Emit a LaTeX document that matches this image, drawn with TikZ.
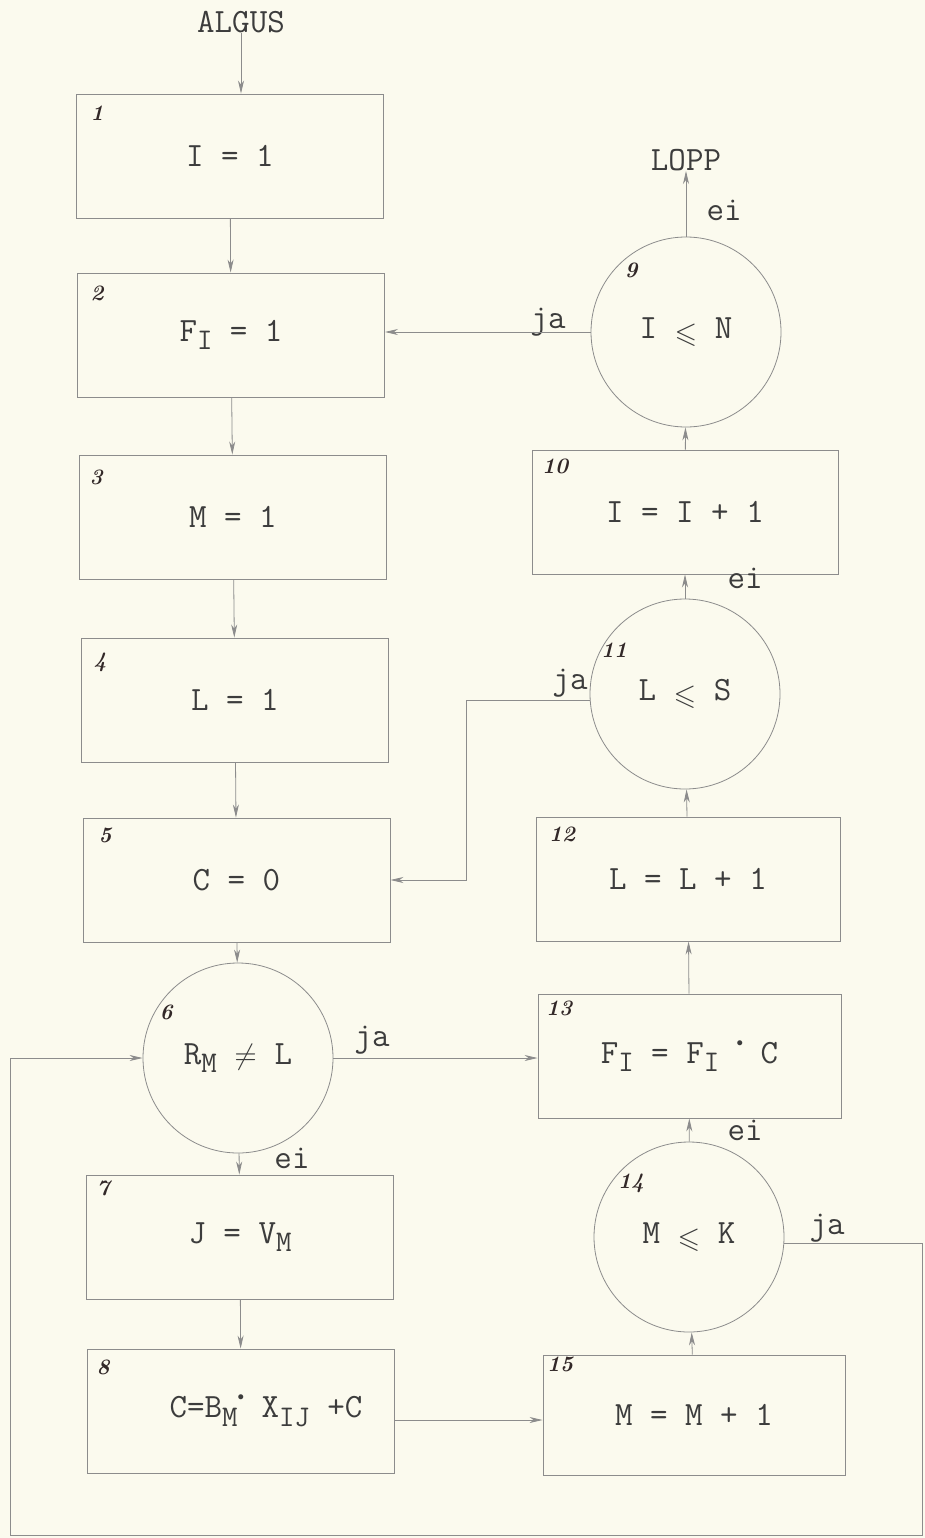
\documentclass[tikz,border=0pt]{standalone}
\usepackage{amssymb}
\usetikzlibrary{arrows.meta}
\definecolor{paper}{RGB}{251,250,238}
\definecolor{ink}{RGB}{60,60,60}
\definecolor{pencil}{RGB}{140,140,140}
\definecolor{numc}{RGB}{50,40,40}
\newcommand\sub[1]{\raisebox{-0.6ex}{\fontsize{30}{30}\selectfont #1}}
\newcommand\tdot{\raisebox{0.5em}{\scalebox{1.3}{\normalsize$\bullet$}}}
\newcommand\leqs{\raisebox{-0.1em}{\scalebox{2.9}{\normalsize$\leqslant$}}}
\newcommand\neqs{\scalebox{2.9}{\normalsize$\neq$}}
\tikzset{
  typed/.style={font=\ttfamily\fontsize{34}{38}\selectfont, text=ink},
  box/.style={typed, draw=pencil, line width=0.9pt, minimum width=307pt, minimum height=124pt, inner sep=0pt},
  cond/.style={typed, draw=pencil, line width=0.8pt, circle, minimum size=190pt, inner sep=0pt},
  numlbl/.style={font=\bfseries\itshape\fontsize{22}{22}\selectfont, text=numc, inner sep=0pt},
  lbl/.style={typed, inner sep=0pt},
  arr/.style={draw=pencil, line width=0.8pt, -{Stealth[length=13pt,width=6pt,inset=4pt]}}
}
\begin{document}
\begin{tikzpicture}[x=1pt,y=-1pt]
\fill[paper] (0,0) rectangle (925,1538);
\useasboundingbox (0,0) rectangle (925,1538);

% left column
\node[lbl] (algus) at (241,22) {ALGUS};
\node[box] (b1) at (230,156) {I = 1};
\node[box] (b2) at (231,335) {F\sub{I} = 1};
\node[box] (b3) at (233,517) {M = 1};
\node[box] (b4) at (235,700) {L = 1};
\node[box] (b5) at (236.5,880) {C = 0};
\node[cond] (c6) at (238,1058) {R\sub{M} \neqs{} L};
\node[box] (b7) at (240,1237) {J = V\sub{M}};
\node[box] (b8) at (241,1411) {\hspace*{50pt}C=B\sub{M}\tdot{} X\sub{IJ} +C};

% right column
\node[lbl] (lopp) at (686,160) {LOPP};
\node[cond] (c9) at (686,332) {I \leqs{} N};
\node[box, minimum width=306pt] (b10) at (685,512) {I = I + 1};
\node[cond] (c11) at (685,694) {L \leqs{} S};
\node[box, minimum width=304pt] (b12) at (688,879) {L = L + 1};
\node[box, minimum width=303pt] (b13) at (689.5,1056) {F\sub{I} = F\sub{I} \tdot{} C};
\node[cond] (c14) at (689,1237) {M \leqs{} K};
\node[box, minimum width=302pt, minimum height=120pt] (b15) at (694,1415) {M = M + 1};

% numbers
\node[numlbl] (n1) at (97,113) {1};
\node[numlbl] (n2) at (97,293) {2};
\node[numlbl] (n3) at (96,477) {3};
\node[numlbl] (n4) at (100,662) {4};
\node[numlbl] (n5) at (105,835) {5};
\node[numlbl] (n6) at (166,1012) {6};
\node[numlbl] (n7) at (103,1188) {7};
\node[numlbl] (n8) at (103,1367) {8};
\node[numlbl] (n9) at (631,270) {9};
\node[numlbl] (n10) at (555,466) {10};
\node[numlbl] (n11) at (614,650) {11};
\node[numlbl] (n12) at (562,834) {12};
\node[numlbl] (n13) at (559,1008) {13};
\node[numlbl] (n14) at (631,1183) {14};
\node[numlbl] (n15) at (560,1364) {15};

% ja / ei labels
\node[lbl] (ja9) at (548,322) {ja};
\node[lbl] (ei9) at (724,210) {ei};
\node[lbl] (ei11) at (745,578) {ei};
\node[lbl] (ja11) at (570,683) {ja};
\node[lbl] (ja6) at (372,1040) {ja};
\node[lbl] (ei6) at (292,1158) {ei};
\node[lbl] (ei14) at (745,1130) {ei};
\node[lbl] (ja14) at (827,1228) {ja};

% connectors
\draw[arr] (algus) -- (b1.north -| algus.south);
\draw[arr] (b1) -- (b2);
\draw[arr] (b2) -- (b3);
\draw[arr] (b3) -- (b4);
\draw[arr] (b4) -- (b5);
\draw[arr] (b5) -- (c6);
\draw[arr] (c6) -- (b7);
\draw[arr] (b7) -- (b8);

\draw[arr] (c9) -- (lopp);
\draw[arr] (c9.west) -- (c9.west -| b2.east);
\draw[arr] (b10) -- (c9);
\draw[arr] (c11) -- (b10);
\draw[arr] (b12) -- (c11);
\coordinate (k11) at (466,700);
\draw[arr] (c11.west |- k11) -- (k11) |- (b5.east);
\draw[arr] (b13) -- (b12);
\draw[arr] (c6.east) -- (c6.east -| b13.west);
\draw[arr] (c14) -- (b13);
\draw[arr] (b15) -- (c14);
\coordinate (b8o) at (394,1420);
\draw[arr] (b8o) -- (b8o -| b15.west);
\coordinate (r1) at (922,1243);
\coordinate (r2) at (922,1535);
\coordinate (l1) at (10,1535);
\draw[arr] (c14.east |- r1) -- (r1) -- (r2) -- (l1) |- (c6.west);
\end{tikzpicture}
\end{document}
